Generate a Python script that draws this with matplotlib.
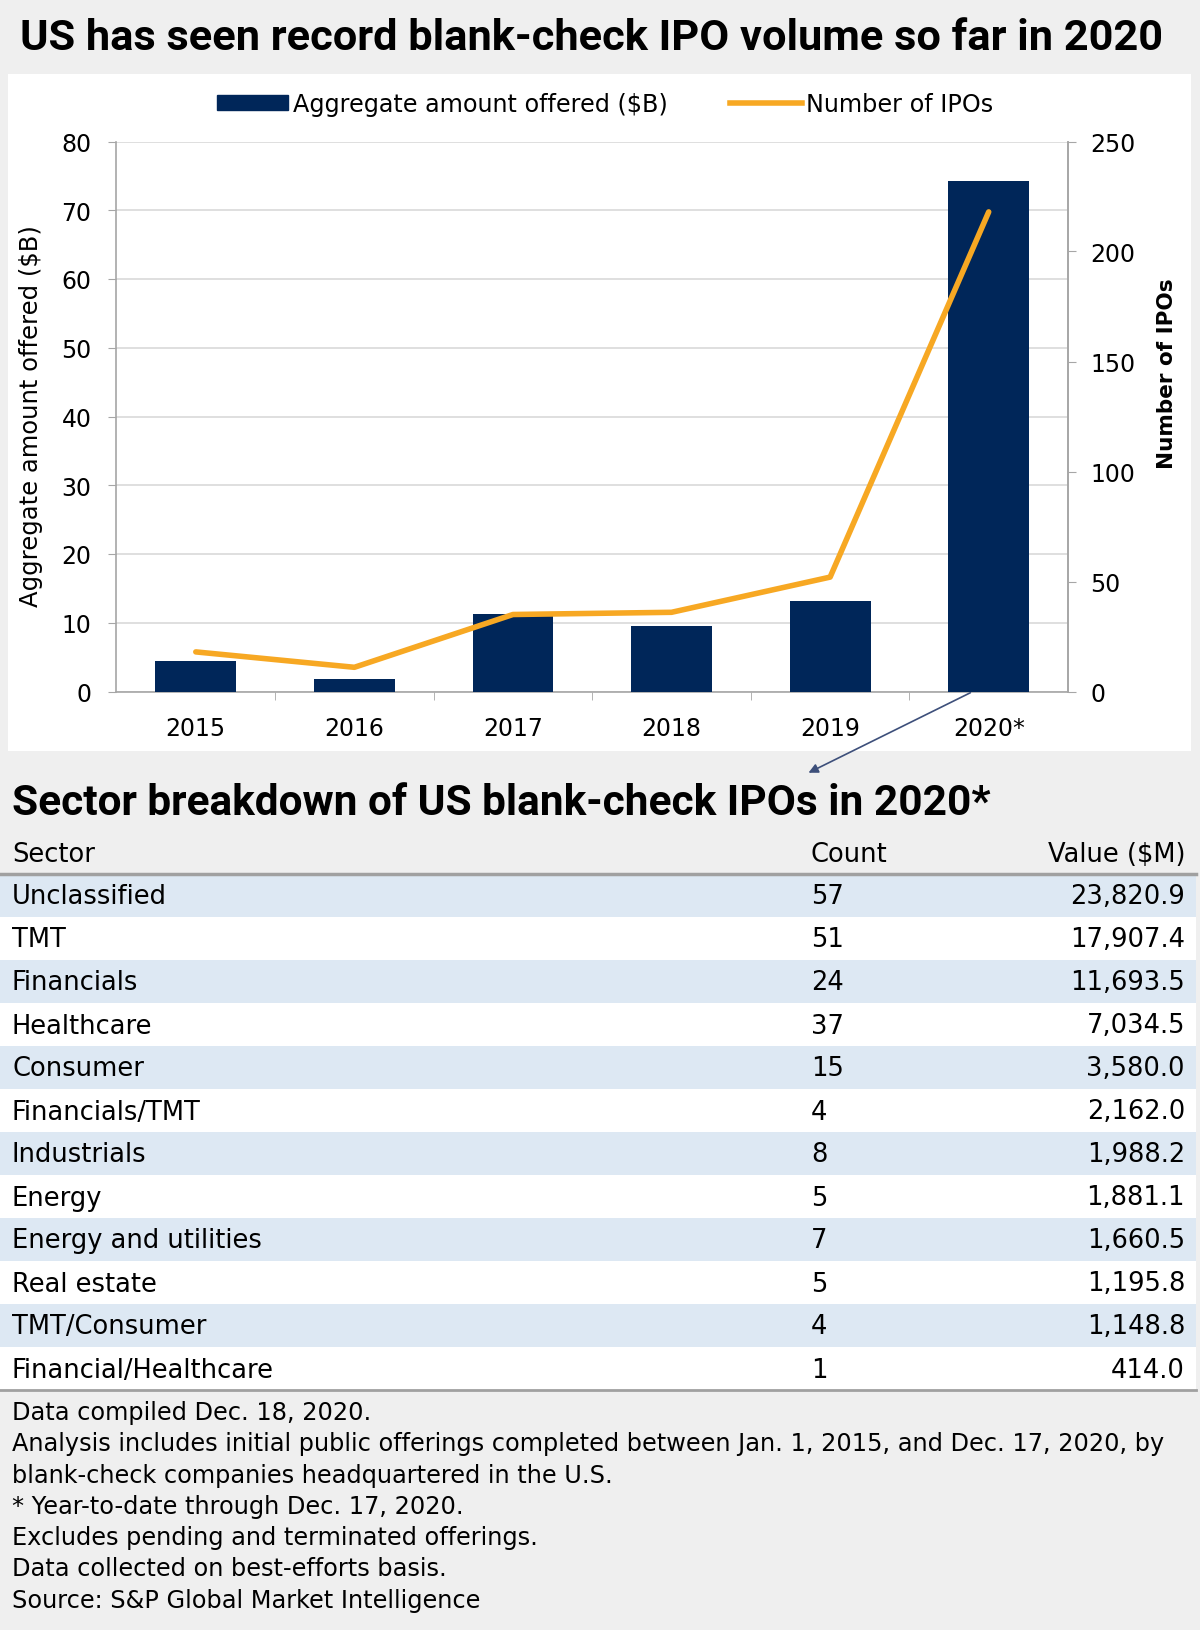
import matplotlib.pyplot as plt
from matplotlib.patches import Rectangle
from matplotlib.lines import Line2D

# chart data
years = ['2015', '2016', '2017', '2018', '2019', '2020*']
amount_bn = [4.5, 1.8, 11.3, 9.5, 13.2, 74.3]
ipo_count = [18, 11, 35, 36, 52, 218]

# table data
sectors = ['Unclassified', 'TMT', 'Financials', 'Healthcare', 'Consumer', 'Financials/TMT',
           'Industrials', 'Energy', 'Energy and utilities', 'Real estate', 'TMT/Consumer',
           'Financial/Healthcare']
counts = ['57', '51', '24', '37', '15', '4', '8', '5', '7', '5', '4', '1']
values = ['23,820.9', '17,907.4', '11,693.5', '7,034.5', '3,580.0', '2,162.0', '1,988.2',
          '1,881.1', '1,660.5', '1,195.8', '1,148.8', '414.0']

notes = ['Data compiled Dec. 18, 2020.',
         'Analysis includes initial public offerings completed between Jan. 1, 2015, and Dec. 17, 2020, by',
         'blank-check companies headquartered in the U.S.',
         '* Year-to-date through Dec. 17, 2020.',
         'Excludes pending and terminated offerings.',
         'Data collected on best-efforts basis.',
         'Source: S&P Global Market Intelligence']

NAVY = '#002659'
ORANGE = '#f7a823'
BG = '#efefef'
STRIPE = '#dde8f3'
GREY = '#a6a6a6'
W, H = 1200, 1631

plt.rcParams['font.family'] = ['DejaVu Sans']

fig = plt.figure(figsize=(12, 16.31), dpi=100, facecolor=BG)


def fx(x):
    return x / W


def fy(y):
    return 1 - y / H


# white panel behind the chart
fig.patches.append(Rectangle((fx(8), fy(752)), fx(1183), (752 - 75) / H,
                             transform=fig.transFigure, facecolor='white', edgecolor='none', zorder=-2))

fig.text(fx(20), fy(38), 'US has seen record blank-check IPO volume so far in 2020',
         fontsize=31.2, fontweight='bold', family=['Roboto', 'DejaVu Sans'], va='center', ha='left')

ax = fig.add_axes([fx(116.5), fy(692.5), (1068 - 116.5) / W, (692.5 - 142.5) / H])
x = list(range(len(years)))
bars = ax.bar(x, amount_bn, width=0.51, color=NAVY, zorder=3)
ax.set_xlim(-0.5, len(years) - 0.5)
ax.set_ylim(0, 80)
ax.set_yticks(range(0, 81, 10))
ax.set_xticks(x)
ax.set_xticklabels(years)
ax.set_xticks([i + 0.5 for i in x[:-1]], minor=True)
ax.tick_params(axis='x', which='major', length=0, pad=18, labelsize=17)
ax.tick_params(axis='x', which='minor', length=6, color=GREY)
ax.tick_params(axis='y', length=6, color=GREY, pad=12, labelsize=17)
ax.grid(axis='y', color='#d9d9d9', lw=1.2, zorder=0)
for s in ['left', 'bottom', 'right']:
    ax.spines[s].set_color(GREY)
    ax.spines[s].set_linewidth(1.2)
ax.spines['top'].set_visible(False)

ax2 = ax.twinx()
line, = ax2.plot(x, ipo_count, color=ORANGE, lw=4, solid_capstyle='round')
ax2.set_ylim(0, 250)
ax2.set_yticks(range(0, 251, 50))
ax2.tick_params(axis='y', length=6, color=GREY, pad=10, labelsize=17)
for s in ['top', 'left', 'bottom']:
    ax2.spines[s].set_visible(False)
ax2.spines['right'].set_color(GREY)
ax2.spines['right'].set_linewidth(1.2)

fig.text(fx(31), fy(416), 'Aggregate amount offered ($B)', rotation=90, fontsize=17.5,
         ha='center', va='center')
fig.text(fx(1167), fy(374), 'Number of IPOs', rotation=90, fontsize=15.5, fontweight='bold',
         ha='center', va='center')

fig.legend([Rectangle((0, 0), 1, 1, color=NAVY), Line2D([], [], color=ORANGE, lw=4)],
           ['Aggregate amount offered ($B)', 'Number of IPOs'],
           loc='center', bbox_to_anchor=(fx(605), fy(105)), ncol=2, frameon=False,
           fontsize=17.2, handlelength=3.0, handleheight=0.55, handletextpad=0.2, columnspacing=2.6)

ax.annotate('', xy=(fx(806), fy(775)), xycoords='figure fraction',
            xytext=(4.9, 0), textcoords='data', annotation_clip=False,
            arrowprops=dict(arrowstyle='-|>', color='#3d4f7a', lw=1.2, mutation_scale=14))

# table section
fig.text(fx(12), fy(804), 'Sector breakdown of US blank-check IPOs in 2020*',
         fontsize=30.5, fontweight='bold', family=['Roboto', 'DejaVu Sans'], va='center', ha='left')

fs = 18.5
fig.text(fx(12), fy(855), 'Sector', fontsize=fs, va='center')
fig.text(fx(811), fy(855), 'Count', fontsize=fs, va='center')
fig.text(fx(1185), fy(855), 'Value ($M)', fontsize=fs, va='center', ha='right')

row_h = 43
y0 = 896
for i, (s, c, v) in enumerate(zip(sectors, counts, values)):
    yc = y0 + i * row_h
    fc = STRIPE if i % 2 == 0 else 'white'
    fig.patches.append(Rectangle((0, fy(yc + row_h / 2)), fx(1196), row_h / H,
                                 transform=fig.transFigure, facecolor=fc, edgecolor='none', zorder=-2))
    fig.text(fx(12), fy(yc + 1.5), s, fontsize=fs, va='center')
    fig.text(fx(811), fy(yc + 1.5), c, fontsize=fs, va='center')
    fig.text(fx(1185), fy(yc + 1.5), v, fontsize=fs, va='center', ha='right')

top_line = y0 - row_h / 2
bot_line = y0 + (len(sectors) - 0.5) * row_h
fig.add_artist(Line2D([0, fx(1196)], [fy(top_line), fy(top_line)], color='#a0a0a0', lw=2.5))
fig.add_artist(Line2D([0, fx(1196)], [fy(bot_line), fy(bot_line)], color='#a0a0a0', lw=2))

for i, n in enumerate(notes):
    fig.text(fx(12), fy(1413 + i * 31.3), n, fontsize=17.3, va='center')

fig.savefig('out.png', dpi=100, facecolor=BG)
